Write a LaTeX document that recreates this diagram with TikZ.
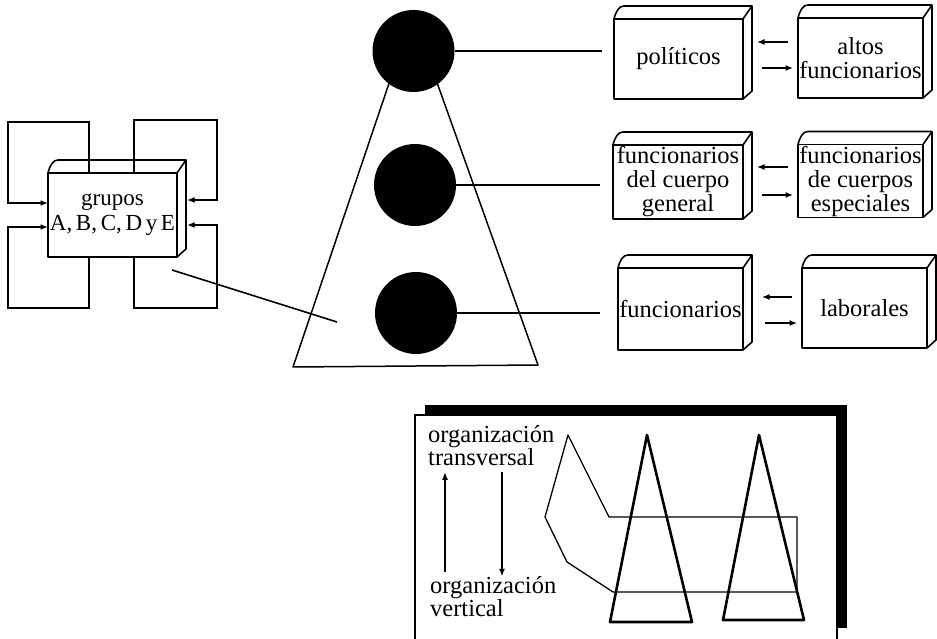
\documentclass[tikz,border=0pt]{standalone}
\usepackage{fontspec}
\setmainfont{Liberation Serif}
\usetikzlibrary{arrows.meta,calc}

% top and right faces of a box drawn as a 3D block
\newcommand\cubeback[1]{%
  \draw[boxline] (#1.north west)
    .. controls ($(#1.north west)+(2,-8)$) and ($(#1.north west)+(5,-13)$) .. ($(#1.north west)+(10,-13)$)
    -- ($(#1.north east)+(9,-13)$) -- ($(#1.south east)+(9,-8)$) -- (#1.south east);
  \draw[boxline] (#1.north east) -- ($(#1.north east)+(9,-13)$);
}

\begin{document}
\begin{tikzpicture}[x=1pt,y=-1pt,
  boxline/.style={line width=1.6pt, line join=round},
  cube/.style={boxline, draw, fill=white, inner sep=0pt, outer sep=0pt, align=center,
    font=\fontsize{24.5}{24}\selectfont},
  link/.style={line width=1.6pt},
  arr/.style={line width=1.3pt, -{Latex[length=7.5pt,width=6pt]}},
  loopline/.style={line width=1.6pt, -{Latex[length=7.5pt,width=6pt]}},
  dot/.style={circle, fill=black, minimum size=82pt, inner sep=0pt},
  paneltext/.style={inner sep=0pt, align=left, font=\fontsize{24.5}{20.5}\selectfont},
]
\useasboundingbox (0,0) rectangle (937,639);

% ---------- the pyramid with its three levels ----------
\coordinate (apex) at (412.5,14);
\coordinate (pbl) at (293,367);
\coordinate (pbr) at (538,365);
\draw[line width=1.5pt, line join=round] (apex) -- (pbr) -- (pbl) -- cycle;
\node[dot] (c1) at (413.5,51) {};
\node[dot] (c2) at (415,185) {};
\node[dot] (c3) at (416,313) {};

% ---------- right-hand boxes ----------
\node[cube, minimum width=129pt, minimum height=80pt] (pol) at (678.5,59) {políticos};
\node[cube, minimum width=125pt, minimum height=80pt] (alt) at (860.5,58) {altos\\funcionarios};
\node[cube, minimum width=130pt, minimum height=74pt] (fcg) at (678,182) {funcionarios\\del cuerpo\\general};
\node[cube, minimum width=125pt, minimum height=73pt] (fce) at (860.5,181) {funcionarios\\de cuerpos\\especiales};
\node[cube, minimum width=125pt, minimum height=82pt] (fun) at (680.5,309) {funcionarios};
\node[cube, minimum width=125pt, minimum height=80pt] (lab) at (864.5,308) {laborales};
\foreach \b in {pol,alt,fcg,fce,fun,lab} {\cubeback{\b}}

% levels to boxes
\draw[link, shorten >=12pt] (c1.east) -- (c1.east -| pol.west);
\draw[link, shorten >=13pt] (c2.east) -- (c2.east -| fcg.west);
\draw[link, shorten >=18pt] (c3.east) -- (c3.east -| fun.west);

% exchanges between the boxes of each level
\path ([yshift=17pt]pol.east) coordinate (p1) ([yshift=-9pt]pol.east) coordinate (p2);
\draw[arr, shorten <=10pt, shorten >=14pt] (p1 -| alt.west) -- (p1);
\draw[arr, shorten <=19pt, shorten >=5pt] (p2) -- (p2 -| alt.west);
\path ([yshift=15pt]fcg.east) coordinate (q1) ([yshift=-13pt]fcg.east) coordinate (q2);
\draw[arr, shorten <=10pt, shorten >=14pt] (q1 -| fce.west) -- (q1);
\draw[arr, shorten <=19pt, shorten >=5pt] (q2) -- (q2 -| fce.west);
\path ([yshift=12pt]fun.east) coordinate (r1) ([yshift=-14pt]fun.east) coordinate (r2);
\draw[arr, shorten <=10pt, shorten >=19pt] (r1 -| lab.west) -- (r1);
\draw[arr, shorten <=22pt, shorten >=5pt] (r2) -- (r2 -| lab.west);

% ---------- groups box with its four loops ----------
\node[cube, minimum width=129pt, minimum height=84pt,
  font={\fontsize{23}{25}\selectfont\spaceskip=0.16em}] (gru) at (112.5,215) {grupos\\A, B, C, D y E};
\cubeback{gru}
\coordinate (ltl) at (8,122);
\coordinate (lbl) at (8,308);
\coordinate (ltr) at (217,120);
\coordinate (lbr) at (217,308);
\draw[loopline] ([xshift=41pt]gru.north west) |- (ltl) |- ([yshift=12pt]gru.west);
\draw[loopline] ([xshift=41pt]gru.south west) |- (lbl) |- ([yshift=-12pt]gru.west);
\draw[loopline] ([xshift=86pt]gru.north west) |- (ltr) |- ([xshift=10pt,yshift=15pt]gru.east);
\draw[loopline] ([xshift=86pt]gru.south west) |- (lbr) |- ([xshift=10pt,yshift=-10pt]gru.east);

% groups belong to the pyramid
\coordinate (g1) at (172,270);
\coordinate (g2) at (337,322);
\draw[link] (g1) -- (g2);

% ---------- inset: vertical and transversal organisation ----------
\fill (425,405) rectangle (847,628);
\draw[line width=1.4pt, fill=white] (415,415) rectangle (837,660);
\node[paneltext, anchor=north west] (tv) at (428,425.3) {organización\\transversal};
\node[paneltext, anchor=north west] (vt) at (430,576.3) {organización\\vertical};
\coordinate (ua) at ([xshift=15pt,yshift=4pt]vt.north west);
\coordinate (da) at ([xshift=74pt,yshift=-6pt]tv.south west);
\draw[arr] (ua) -- (ua |- da);
\draw[arr] (da) -- (da |- vt.north);

% the transversal band crossing the pyramids
\draw[line width=1.3pt, line join=round]
  (568,435) -- (609,517) -- (797,517) -- (797,592) -- (613,592) -- (567,562) -- (545,517) -- cycle;
% two pyramids
\draw[line width=2.6pt, line join=round] (647,435) -- (692,622) -- (610,622) -- cycle;
\draw[line width=2.6pt, line join=round] (759,435) -- (804,620) -- (723,620) -- cycle;
\end{tikzpicture}
\end{document}
